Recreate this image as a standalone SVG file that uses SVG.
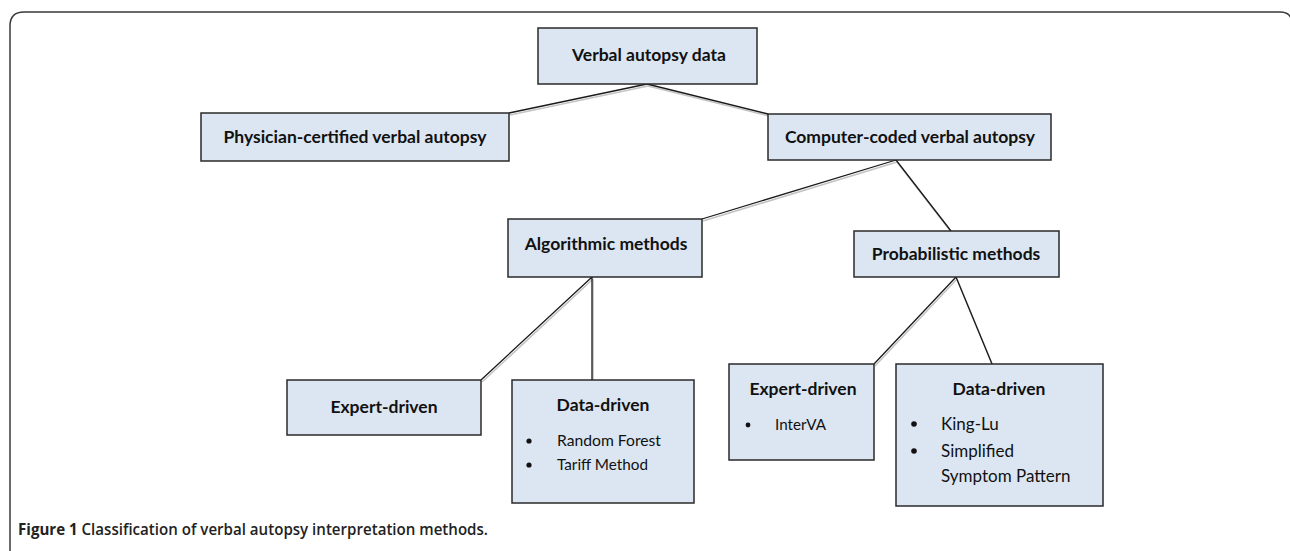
<svg xmlns="http://www.w3.org/2000/svg" width="1290" height="551" viewBox="0 0 1290 551">
<style>
.box{fill:#dce6f2;stroke:#2a2a2a;stroke-width:1.5}
.t{font-family:Lato,"Liberation Sans",sans-serif;font-weight:bold;font-size:17.5px;fill:#111;text-anchor:middle}
.r{font-family:Lato,"Liberation Sans",sans-serif;font-size:15px;fill:#111}
.r2{font-family:Lato,"Liberation Sans",sans-serif;font-size:17px;fill:#111}
.ln{stroke:#1a1a1a;stroke-width:1.3;fill:none}
.sh{stroke:#c4c4c4;stroke-width:1.6;fill:none}
.cap{font-family:"Open Sans","Liberation Sans",sans-serif;font-size:16.5px;fill:#222}
</style>
<rect width="1290" height="551" fill="#fff"/>
<path d="M10,551 V26 Q10,12 24,12 H1280 Q1292,12 1292,24 V551" fill="none" stroke="#3a3a3a" stroke-width="1.5"/>
<g id="connectors">
<g transform="translate(1,2)">
<path class="sh" d="M647,84 L509,113 M647,84 L768,114 M896,160 L702,219 M896,160 L951,231 M592,277 L481,380 M592,277 L592,380 M956,277 L874,364 M956,277 L992,364"/>
</g>
<path class="ln" d="M647,84 L509,113 M647,84 L768,114 M896,160 L702,219 M896,160 L951,231 M592,277 L481,380 M592,277 L592,380 M956,277 L874,364 M956,277 L992,364"/>
</g>
<g id="n-verbal"><rect class="box" x="538" y="28" width="219" height="56"/><text class="t" x="649" y="61">Verbal autopsy data</text></g>
<g id="n-physician"><rect class="box" x="201" y="113" width="308" height="48"/><text class="t" x="355" y="143">Physician-certified verbal autopsy</text></g>
<g id="n-computer"><rect class="box" x="768" y="114" width="283" height="46"/><text class="t" x="910" y="143">Computer-coded verbal autopsy</text></g>
<g id="n-algorithmic"><rect class="box" x="508" y="219" width="194" height="58"/><text class="t" x="606" y="250">Algorithmic methods</text></g>
<g id="n-probabilistic"><rect class="box" x="854" y="231" width="205" height="46"/><text class="t" x="956" y="260">Probabilistic methods</text></g>
<g id="n-alg-expert"><rect class="box" x="287" y="380" width="194" height="55"/><text class="t" x="384" y="413">Expert-driven</text></g>
<g id="n-alg-data"><rect class="box" x="512" y="380" width="182" height="123"/><text class="t" x="603" y="411">Data-driven</text>
<circle cx="529" cy="441" r="2.6" fill="#111"/><circle cx="529" cy="465" r="2.6" fill="#111"/>
<text class="r" x="557" y="446" textLength="104" lengthAdjust="spacingAndGlyphs">Random Forest</text>
<text class="r" x="557" y="470" textLength="91" lengthAdjust="spacingAndGlyphs">Tariff Method</text></g>
<g id="n-prob-expert"><rect class="box" x="729" y="364" width="145" height="96"/><text class="t" x="803" y="395">Expert-driven</text>
<circle cx="748" cy="425" r="2.4" fill="#111"/>
<text class="r" x="775" y="430" textLength="51" lengthAdjust="spacingAndGlyphs">InterVA</text></g>
<g id="n-prob-data"><rect class="box" x="896" y="364" width="207" height="142"/><text class="t" x="999" y="395">Data-driven</text>
<circle cx="914" cy="424" r="2.8" fill="#111"/><circle cx="914" cy="451" r="2.8" fill="#111"/>
<text class="r2" x="941" y="430">King-Lu</text>
<text class="r2" x="941" y="457">Simplified</text>
<text class="r2" x="941" y="482">Symptom Pattern</text></g>
<text class="cap" x="18" y="535" textLength="470" lengthAdjust="spacingAndGlyphs"><tspan font-weight="bold">Figure 1</tspan><tspan font-weight="600"> Classification of verbal autopsy interpretation methods.</tspan></text>
</svg>
